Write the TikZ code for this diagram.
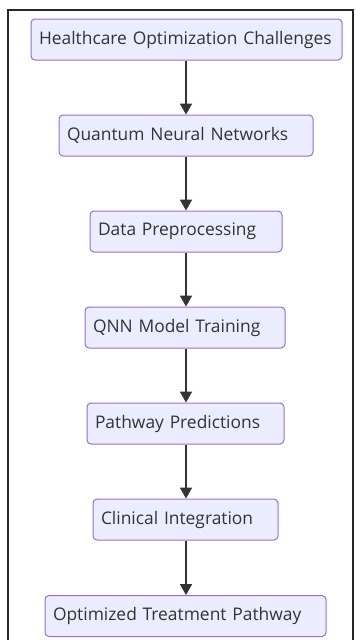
\documentclass[tikz,border=0pt]{standalone}
\usepackage{fontspec}
\setmainfont{Open Sans}
\usetikzlibrary{arrows.meta}
\definecolor{boxfill}{HTML}{ECECFF}
\definecolor{boxdraw}{HTML}{9370DB}
\definecolor{edge}{HTML}{333333}
\begin{document}
\begin{tikzpicture}[x=1pt,y=-1pt,
  box/.style={draw=boxdraw, fill=boxfill, line width=1pt, rounded corners=4pt,
    minimum height=41pt, inner xsep=8pt, align=left, font=\fontsize{17.4}{20}\selectfont, text=edge},
  flow/.style={draw=edge, line width=1.8pt, -{Triangle[width=12pt,length=11pt]}}]
\useasboundingbox (0,0) rectangle (356,640);
\fill[white] (0,0) rectangle (356,640);
\draw[line width=1.2pt, black!85] (8,10) rectangle (353,700);
\node[box, text width=295pt] (n1) at (186.5,39.5) {Healthcare Optimization Challenges};
\node[box, text width=238pt] (n2) at (186,135.5) {Quantum Neural Networks};
\node[box, text width=176pt] (n3) at (186,231.5) {Data Preprocessing};
\node[box, text width=184pt] (n4) at (185,327.5) {QNN Model Training};
\node[box, text width=181pt] (n5) at (185.5,423.5) {Pathway Predictions};
\node[box, text width=169pt] (n6) at (185.5,519.5) {Clinical Integration};
\node[box, text width=265pt] (n7) at (185.5,616) {Optimized Treatment Pathway};
\draw[flow] (n1.south -| 186,0) -- (n2.north -| 186,0);
\draw[flow] (n2.south -| 186,0) -- (n3.north -| 186,0);
\draw[flow] (n3.south -| 186,0) -- (n4.north -| 186,0);
\draw[flow] (n4.south -| 186,0) -- (n5.north -| 186,0);
\draw[flow] (n5.south -| 186,0) -- (n6.north -| 186,0);
\draw[flow] (n6.south -| 186,0) -- (n7.north -| 186,0);
\end{tikzpicture}
\end{document}
